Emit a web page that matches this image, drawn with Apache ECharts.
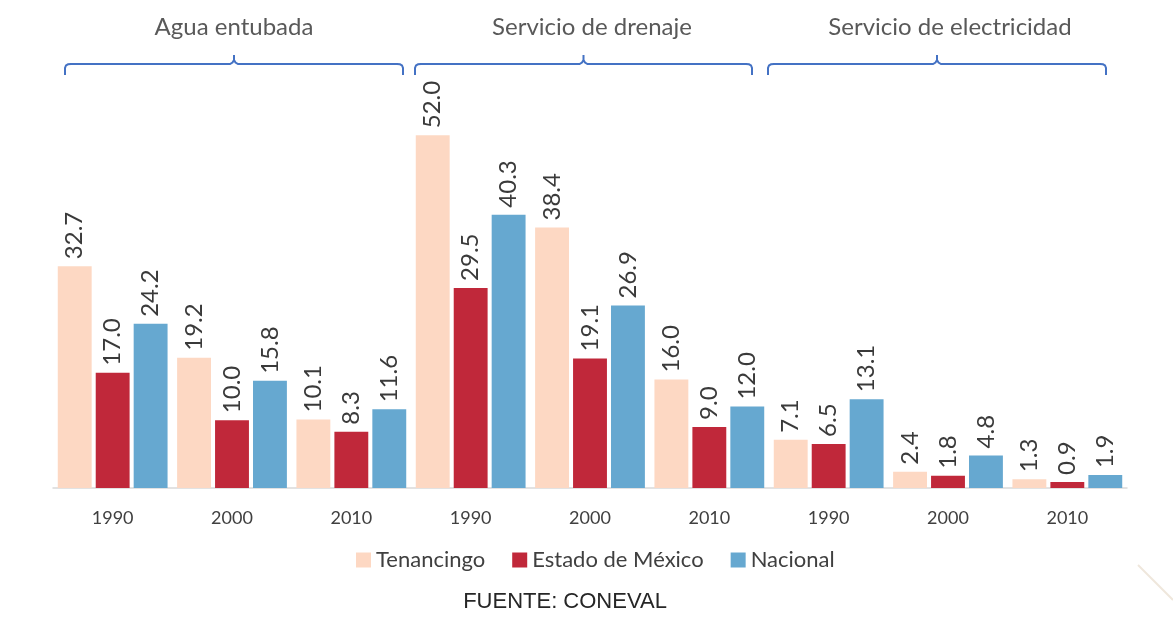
<!DOCTYPE html>
<html>
<head>
<meta charset="utf-8">
<script src="https://cdn.jsdelivr.net/npm/echarts@6/dist/echarts.min.js"></script>
<style>
  html, body { margin: 0; padding: 0; background: #fff; }
  #chart { width: 1173px; height: 635px; }
</style>
</head>
<body>
<div id="chart"></div>
<script>
var years = ['1990', '2000', '2010', '1990', '2000', '2010', '1990', '2000', '2010'];
var groups = ['Agua entubada', 'Servicio de drenaje', 'Servicio de electricidad'];
var seriesNames = ['Tenancingo', 'Estado de México', 'Nacional'];
var tenancingo = [32.7, 19.2, 10.1, 52.0, 38.4, 16.0, 7.1, 2.4, 1.3];
var estado = [17.0, 10.0, 8.3, 29.5, 19.1, 9.0, 6.5, 1.8, 0.9];
var nacional = [24.2, 15.8, 11.6, 40.3, 26.9, 12.0, 13.1, 4.8, 1.9];
var colors = ['#FDD8C3', '#C0283A', '#66A8D0'];

var font = 'Lato, "Open Sans", sans-serif';

var myChart = echarts.init(document.getElementById('chart'), null, { renderer: 'canvas' });

function barSeries(name, data, color) {
  return {
    name: name,
    type: 'bar',
    data: data,
    barGap: '12%',
    barCategoryGap: '8%',
    itemStyle: { color: color },
    label: {
      show: true,
      position: 'top',
      rotate: 90,
      align: 'left',
      verticalAlign: 'middle',
      distance: 7,
      color: '#3A3A3A',
      fontFamily: font,
      fontSize: 24,
      formatter: function (p) { return p.value.toFixed(1); }
    }
  };
}

var option = {
  animation: false,
  textStyle: { fontFamily: font },
  grid: { left: 53, right: 46, top: 81, bottom: 147 },
  legend: {
    data: seriesNames,
    left: 351,
    top: 544,
    icon: 'rect',
    itemWidth: 15,
    itemHeight: 15,
    itemGap: 27,
    textStyle: { fontSize: 22, color: '#404040', fontFamily: font }
  },
  xAxis: {
    type: 'category',
    data: years,
    axisLine: { lineStyle: { color: '#D9D9D9', width: 1.5 } },
    axisTick: { show: false },
    axisLabel: { color: '#404040', fontSize: 18, margin: 21, fontFamily: font }
  },
  yAxis: {
    type: 'value',
    min: 0,
    max: 60,
    show: false,
    splitLine: { show: false }
  },
  series: [
    barSeries(seriesNames[0], tenancingo, colors[0]),
    barSeries(seriesNames[1], estado, colors[1]),
    barSeries(seriesNames[2], nacional, colors[2])
  ]
};

myChart.setOption(option);

// group headers and braces
var braces = [[65, 403], [415, 752], [768, 1106]];
var graphics = [];

function bracePoints(x1, x2) {
  var xm = (x1 + x2) / 2;
  return [
    [x1, 75], [x1, 68], [x1 + 1, 65.5], [x1 + 3, 64.3], [x1 + 6, 64],
    [xm - 4, 64], [xm - 1.5, 62.5], [xm, 60], [xm, 55], [xm, 60], [xm + 1.5, 62.5], [xm + 4, 64],
    [x2 - 6, 64], [x2 - 3, 64.3], [x2 - 1, 65.5], [x2, 68], [x2, 75]
  ];
}

groups.forEach(function (g, i) {
  var cx = myChart.convertToPixel({ xAxisIndex: 0 }, i * 3 + 1);
  graphics.push({
    type: 'text',
    x: cx + 2,
    y: 27,
    style: {
      text: g,
      fill: '#595959',
      font: '24px ' + font,
      textAlign: 'center',
      textVerticalAlign: 'middle'
    }
  });
  graphics.push({
    type: 'polyline',
    shape: { points: bracePoints(braces[i][0], braces[i][1]) },
    style: { stroke: '#4472C4', lineWidth: 2, fill: null }
  });
});

graphics.push({
  type: 'text',
  x: 565,
  y: 602,
  style: {
    text: 'FUENTE: CONEVAL',
    fill: '#262626',
    font: '22px "Liberation Sans", Arial, sans-serif',
    textAlign: 'center',
    textVerticalAlign: 'middle'
  }
});

graphics.push({
  type: 'line',
  shape: { x1: 1138, y1: 565, x2: 1173, y2: 600 },
  style: { stroke: '#EFE7DC', lineWidth: 2 }
});

myChart.setOption({ graphic: graphics });

window.addEventListener('resize', myChart.resize);
</script>
</body>
</html>
